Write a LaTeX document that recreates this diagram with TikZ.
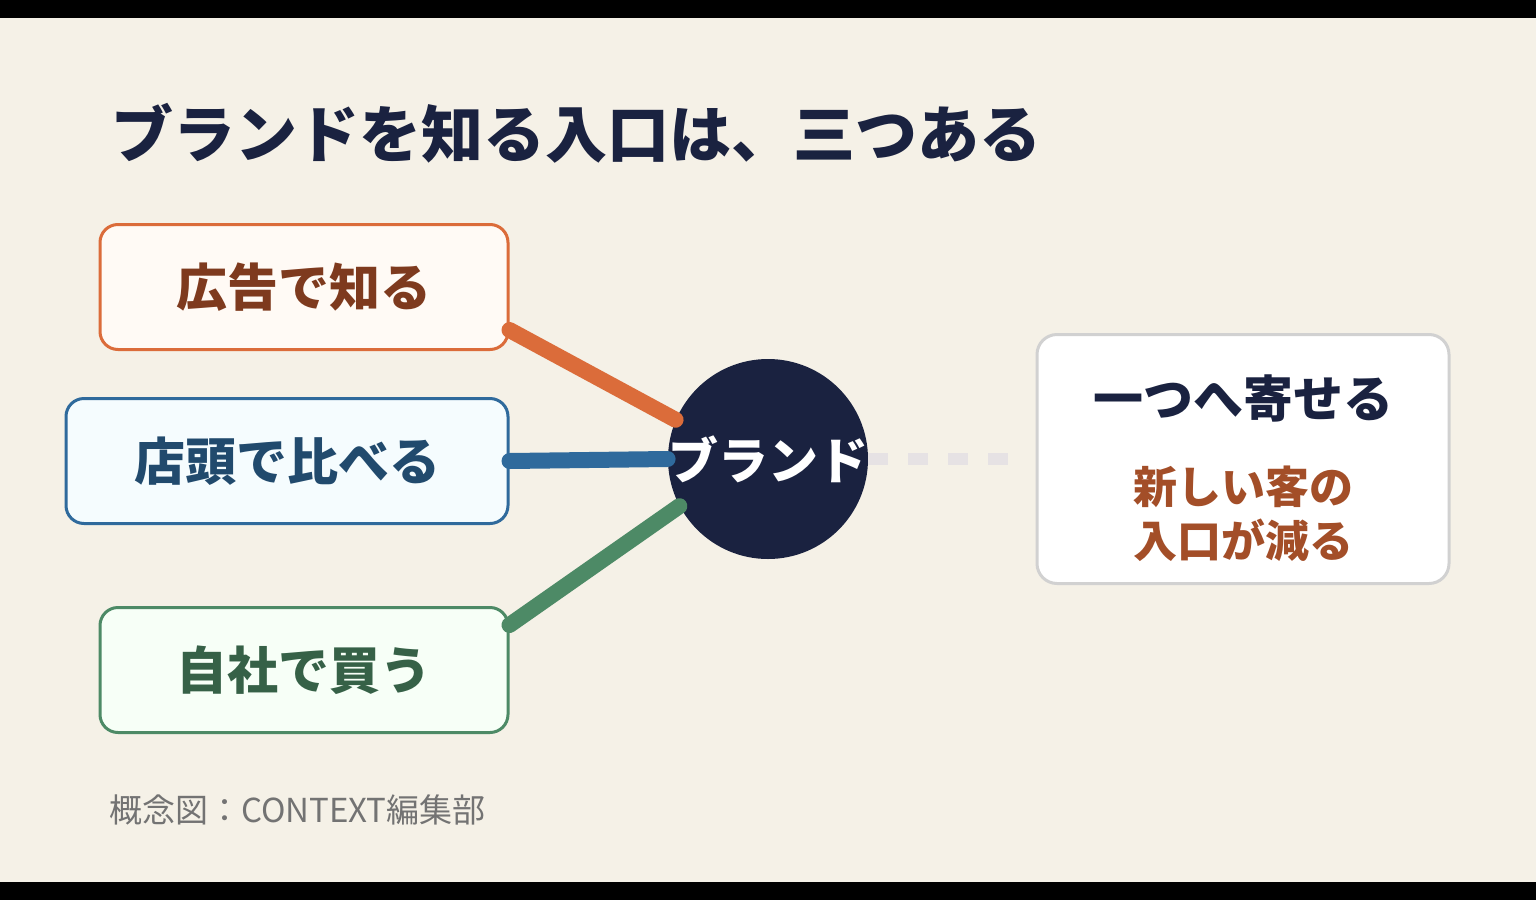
\documentclass[tikz,border=0pt]{standalone}
\usepackage{fontspec}
\setmainfont{Noto Sans CJK JP}
\usetikzlibrary{calc}
\definecolor{navy}{HTML}{1A2240}
\definecolor{paper}{HTML}{F5F1E7}
\definecolor{myorange}{HTML}{DB6C3A}
\definecolor{myblue}{HTML}{2F6A9C}
\definecolor{mygreen}{HTML}{4D8A66}
\definecolor{rust}{HTML}{7E3A1E}
\definecolor{sienna}{HTML}{A34E28}
\tikzstyle{entry}=[draw,line width=1.5pt,rounded corners=9pt,minimum height=62.5pt,font=\bfseries\fontsize{25.5}{28}\selectfont]
\tikzstyle{link}=[line width=8pt,line cap=round]

\begin{document}
\begin{tikzpicture}[x=0.5pt,y=-0.5pt]
  % BACKGROUND
  \useasboundingbox (0,0) rectangle (1536,900);
  \fill[paper] (0,0) rectangle (1536,900);
  \fill[black] (0,0) rectangle (1536,18);
  \fill[black] (0,882) rectangle (1536,900);

  % TITLE
  \node[anchor=west,text=navy,font=\bfseries\fontsize{31}{34}\selectfont] (title) at (104,133) {ブランドを知る入口は、三つある};

  % ENTRY POINTS
  \node[entry,myorange,fill=orange!4,text=rust,minimum width=204pt] (ad) at (304,287) {広告で知る};
  \node[entry,myblue,fill=cyan!4,text=myblue!70!black,minimum width=221pt] (shop) at (287,461) {店頭で比べる};
  \node[entry,mygreen,fill=green!3,text=mygreen!70!black,minimum width=204pt] (own) at (304,670) {自社で買う};

  % BRAND
  \node[circle,fill=navy,minimum size=100pt,inner sep=0] (brand) at (768,459) {};
  \coordinate (adout) at ($(ad.east)+(0,43)$);
  \coordinate (ownout) at ($(own.east)+(0,-45)$);
  \draw[link,myorange] (adout) -- (brand.157);
  \draw[link,myblue] (shop.east) -- (brand.west);
  \draw[link,mygreen] (ownout) -- (brand.208);
  \node[text=white,font=\bfseries\fontsize{25}{28}\selectfont] (brandtext) at (brand) {ブランド};

  % RESULT
  \node[draw=black!18,line width=1.5pt,fill=white,rounded corners=10pt,minimum width=206pt,minimum height=124.5pt] (result) at (1243,459) {};
  \node[text=navy,font=\bfseries\fontsize{25}{28}\selectfont] (resulttop) at (1243,398) {一つへ寄せる};
  \node[text=sienna,font=\bfseries\fontsize{22}{27}\selectfont,align=center] (resultsub) at (1243,514) {新しい客の\\入口が減る};
  \coordinate (dashend) at ($(result.west)+(-18,0)$);
  \draw[line width=6pt,black!28!blue!6!paper,dash pattern=on 10pt off 10pt] (brand.east) -- (dashend);

  % FOOTER
  \node[anchor=west,text=black!55,font=\fontsize{16.5}{19}\selectfont] (credit) at (102,810) {概念図：CONTEXT編集部};
\end{tikzpicture}
\end{document}
